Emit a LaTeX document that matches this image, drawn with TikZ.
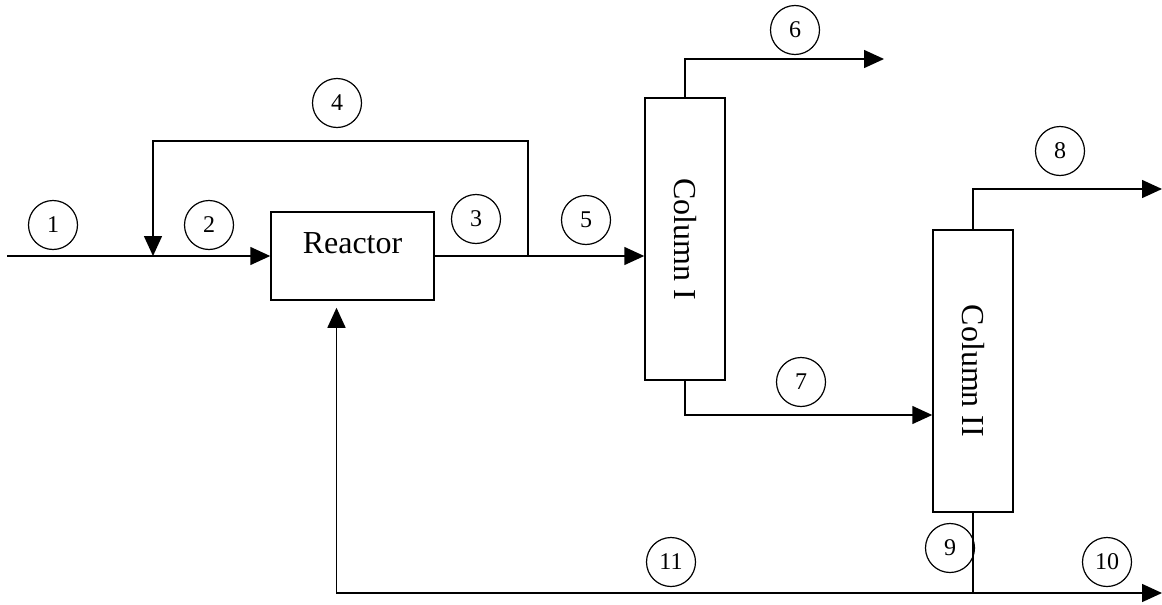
\documentclass[tikz,border=0pt]{standalone}
\usepackage{fontspec}
\setmainfont{Liberation Serif}
\usepackage{graphicx}
\usetikzlibrary{arrows.meta}

\begin{document}
\begin{tikzpicture}[
  x=0.5pt, y=-0.5pt,
  unit/.style={rectangle, draw, line width=0.75pt, font=\fontsize{16}{19}\selectfont},
  stream/.style={circle, draw, line width=0.6pt, minimum size=24.5pt, inner sep=0pt, font=\fontsize{12}{14}\selectfont},
  flow/.style={line width=0.75pt},
  >={Triangle[length=10pt,width=9pt]}
]
\useasboundingbox (0,0) rectangle (1162,605);

\node[unit, minimum width=81.5pt, minimum height=44pt, text height=11pt, text depth=13.4pt] (reactor) at (352.5,256) {Reactor};
\node[unit, minimum width=40pt, minimum height=141pt] (col1) at (685,239) {\rotatebox{-90}{Column I}};
\node[unit, minimum width=40pt, minimum height=141pt] (col2) at (973,371) {\rotatebox{-90}{Column II}};

\coordinate (feed) at (7,256);
\coordinate (split) at (528,256);
\coordinate (mix) at (153,256);
\coordinate (top1) at (884,59);
\coordinate (top2) at (1162,189);
\coordinate (split2) at (col2.south |- 0,593);
\coordinate (out10) at (1162,593);

\draw[flow,->] (feed) -- (reactor.west);
\draw[flow,->] (split) -- ++(0,-115) -| (mix);
\draw[flow,->] (reactor.east) -- (reactor.east -| col1.west);
\draw[flow,->] (col1.north) |- (top1);
\draw[flow,->] (col1.south) |- ([yshift=-22pt]col2.west);
\draw[flow,->] (col2.north) |- (top2);
\draw[flow] (col2.south) -- (split2);
\draw[flow,->] (split2) -- (out10);
\draw[flow,->,shorten >=3.5pt] (split2) -| ([xshift=-8pt]reactor.south);

% stream numbers
\node[stream] (s1) at (53,225) {1};
\node[stream] (s2) at (209,225) {2};
\node[stream] (s3) at (476,219) {3};
\node[stream] (s4) at (337,103) {4};
\node[stream] (s5) at (586,220) {5};
\node[stream] (s6) at (795,30) {6};
\node[stream] (s7) at (801,382) {7};
\node[stream] (s8) at (1060,151) {8};
\node[stream] (s9) at (950,548) {9};
\node[stream] (s10) at (1107,562) {10};
\node[stream] (s11) at (671,562) {11};
\end{tikzpicture}
\end{document}
